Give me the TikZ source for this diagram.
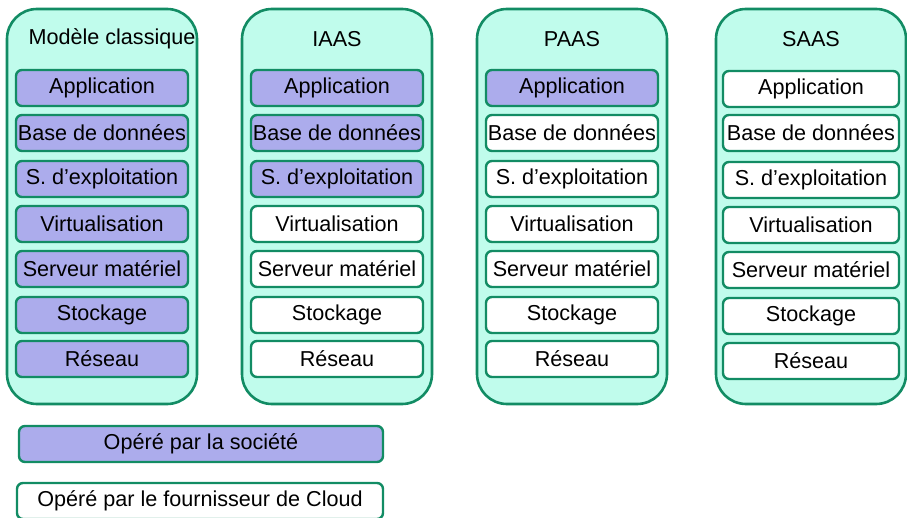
\documentclass[tikz,border=0pt]{standalone}
\usepackage{fontspec}
\setmainfont{Liberation Sans}
\definecolor{mint}{RGB}{192,252,236}
\definecolor{edge}{RGB}{18,140,100}
\definecolor{lav}{RGB}{172,172,236}
\begin{document}
\begin{tikzpicture}[x=1pt,y=-1pt,
  colbox/.style={draw=edge,line width=2.6pt,fill=mint,rounded corners=30pt},
  layer/.style={draw=edge,line width=2.4pt,rounded corners=6pt,minimum width=172pt,minimum height=36pt,inner sep=0pt,font=\fontsize{21.6}{24}\selectfont,text=black},
  own/.style={layer,fill=lav},
  prov/.style={layer,fill=white},
  title/.style={font=\fontsize{21.6}{24}\selectfont,text=black},
  legend/.style={draw=edge,line width=2.4pt,rounded corners=6pt,minimum width=364pt,minimum height=36pt,inner sep=0pt,font=\fontsize{21.6}{24}\selectfont,text=black}]
\useasboundingbox (0,0) rectangle (907,518);
% column boxes
\foreach \x/\n in {102/c1,337/c2,572/c3,811/c4}{
  \draw[colbox] (\x-95,9) rectangle (\x+95,404);
}
\node[title] (t1) at (112,39) {Modèle classique};
\node[title] (t2) at (337,39) {IAAS};
\node[title] (t3) at (572,39) {PAAS};
\node[title] (t4) at (811,39) {SAAS};
% column 1: all owned
\node[own] (a1) at (102,88) {Application};
\node[own] (b1) at (102,133) {Base de données};
\node[own] (s1) at (102,179) {S. d’exploitation};
\node[own] (v1) at (102,224) {Virtualisation};
\node[own] (m1) at (102,269) {Serveur matériel};
\node[own] (k1) at (102,315) {Stockage};
\node[own] (r1) at (102,359) {Réseau};
% column 2: IAAS
\node[own] (a2) at (337,88) {Application};
\node[own] (b2) at (337,133) {Base de données};
\node[own] (s2) at (337,179) {S. d’exploitation};
\node[prov] (v2) at (337,224) {Virtualisation};
\node[prov] (m2) at (337,269) {Serveur matériel};
\node[prov] (k2) at (337,315) {Stockage};
\node[prov] (r2) at (337,359) {Réseau};
% column 3: PAAS
\node[own] (a3) at (572,88) {Application};
\node[prov] (b3) at (572,133) {Base de données};
\node[prov] (s3) at (572,179) {S. d’exploitation};
\node[prov] (v3) at (572,224) {Virtualisation};
\node[prov] (m3) at (572,269) {Serveur matériel};
\node[prov] (k3) at (572,315) {Stockage};
\node[prov] (r3) at (572,359) {Réseau};
% column 4: SAAS
\node[prov,minimum width=176pt] (a4) at (811,89) {Application};
\node[prov,minimum width=176pt] (b4) at (811,133) {Base de données};
\node[prov,minimum width=176pt] (s4) at (811,180) {S. d’exploitation};
\node[prov,minimum width=176pt] (v4) at (811,225) {Virtualisation};
\node[prov,minimum width=176pt] (m4) at (811,270) {Serveur matériel};
\node[prov,minimum width=176pt] (k4) at (811,316) {Stockage};
\node[prov,minimum width=176pt] (r4) at (811,361) {Réseau};
% legend
\node[legend,fill=lav] (l1) at (201,444) {Opéré par la société};
\node[legend,fill=white,minimum width=366pt] (l2) at (200,501) {Opéré par le fournisseur de Cloud};
\end{tikzpicture}
\end{document}
